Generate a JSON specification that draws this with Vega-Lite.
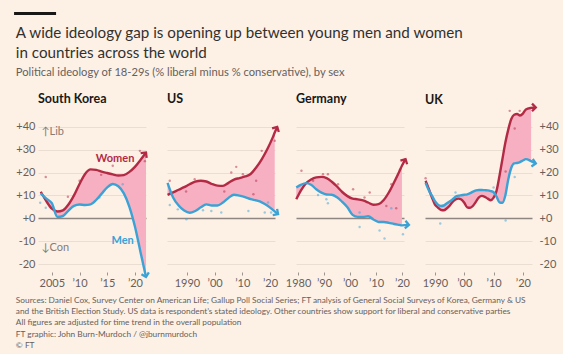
{
"$schema": "https://vega.github.io/schema/vega-lite/v6.json",
"background": "#fdf1e6",
"padding": {"left": 14, "right": 4, "top": 7, "bottom": 4},
"config": {
  "font": "Lato",
  "view": {"stroke": null},
  "axis": {"labelFont": "Lato", "labelFontSize": 11, "labelColor": "#66605c", "domain": false, "ticks": false},
  "axisX": {"ticks": true, "tickSize": 3, "tickColor": "#9e958f", "offset": 8, "labelPadding": 2, "grid": false}
},
"datasets": {
  "bar": [{"a": 0, "b": 1, "c": 4, "d": 7}],
  "lines": [
    {"c":"South Korea","s":"Women","y":2003,"v":11.6},{"c":"South Korea","s":"Women","y":2004,"v":7.5},{"c":"South Korea","s":"Women","y":2005,"v":4.2},{"c":"South Korea","s":"Women","y":2006,"v":3.0},{"c":"South Korea","s":"Women","y":2007,"v":3.5},{"c":"South Korea","s":"Women","y":2008,"v":6.0},{"c":"South Korea","s":"Women","y":2009,"v":10.0},{"c":"South Korea","s":"Women","y":2010,"v":15.0},{"c":"South Korea","s":"Women","y":2011,"v":19.4},{"c":"South Korea","s":"Women","y":2012,"v":21.4},{"c":"South Korea","s":"Women","y":2013,"v":21.2},{"c":"South Korea","s":"Women","y":2014,"v":20.4},{"c":"South Korea","s":"Women","y":2015,"v":19.8},{"c":"South Korea","s":"Women","y":2016,"v":19.2},{"c":"South Korea","s":"Women","y":2017,"v":18.7},{"c":"South Korea","s":"Women","y":2018,"v":18.9},{"c":"South Korea","s":"Women","y":2019,"v":20.3},{"c":"South Korea","s":"Women","y":2020,"v":22.5},{"c":"South Korea","s":"Women","y":2021,"v":25.5},{"c":"South Korea","s":"Women","y":2022,"v":28.8},
    {"c":"South Korea","s":"Men","y":2003,"v":10.9},{"c":"South Korea","s":"Men","y":2004,"v":8.6},{"c":"South Korea","s":"Men","y":2005,"v":6.6},{"c":"South Korea","s":"Men","y":2006,"v":0.6},{"c":"South Korea","s":"Men","y":2007,"v":1.0},{"c":"South Korea","s":"Men","y":2008,"v":3.4},{"c":"South Korea","s":"Men","y":2009,"v":5.4},{"c":"South Korea","s":"Men","y":2010,"v":6.0},{"c":"South Korea","s":"Men","y":2011,"v":5.8},{"c":"South Korea","s":"Men","y":2012,"v":6.1},{"c":"South Korea","s":"Men","y":2013,"v":8.0},{"c":"South Korea","s":"Men","y":2014,"v":10.8},{"c":"South Korea","s":"Men","y":2015,"v":13.5},{"c":"South Korea","s":"Men","y":2016,"v":15.0},{"c":"South Korea","s":"Men","y":2017,"v":14.0},{"c":"South Korea","s":"Men","y":2018,"v":10.9},{"c":"South Korea","s":"Men","y":2019,"v":5.0},{"c":"South Korea","s":"Men","y":2020,"v":-3.6},{"c":"South Korea","s":"Men","y":2021,"v":-14.7},{"c":"South Korea","s":"Men","y":2022,"v":-25.7},
    {"c":"US","s":"Women","y":1983,"v":10.2},{"c":"US","s":"Women","y":1985,"v":11.3},{"c":"US","s":"Women","y":1987,"v":12.5},{"c":"US","s":"Women","y":1989,"v":13.6},{"c":"US","s":"Women","y":1991,"v":14.9},{"c":"US","s":"Women","y":1993,"v":16.0},{"c":"US","s":"Women","y":1995,"v":16.4},{"c":"US","s":"Women","y":1997,"v":16.1},{"c":"US","s":"Women","y":1999,"v":15.0},{"c":"US","s":"Women","y":2001,"v":14.3},{"c":"US","s":"Women","y":2003,"v":14.2},{"c":"US","s":"Women","y":2005,"v":15.5},{"c":"US","s":"Women","y":2007,"v":16.9},{"c":"US","s":"Women","y":2009,"v":17.6},{"c":"US","s":"Women","y":2011,"v":18.3},{"c":"US","s":"Women","y":2013,"v":19.4},{"c":"US","s":"Women","y":2015,"v":22.2},{"c":"US","s":"Women","y":2017,"v":25.8},{"c":"US","s":"Women","y":2019,"v":30.2},{"c":"US","s":"Women","y":2021,"v":35.4},{"c":"US","s":"Women","y":2021.7,"v":37.5},{"c":"US","s":"Women","y":2022.6,"v":40.0},
    {"c":"US","s":"Men","y":1983,"v":15.5},{"c":"US","s":"Men","y":1985,"v":9.1},{"c":"US","s":"Men","y":1987,"v":5.6},{"c":"US","s":"Men","y":1989,"v":3.4},{"c":"US","s":"Men","y":1991,"v":2.4},{"c":"US","s":"Men","y":1993,"v":3.2},{"c":"US","s":"Men","y":1995,"v":4.8},{"c":"US","s":"Men","y":1997,"v":6.1},{"c":"US","s":"Men","y":1999,"v":5.6},{"c":"US","s":"Men","y":2001,"v":5.6},{"c":"US","s":"Men","y":2003,"v":6.9},{"c":"US","s":"Men","y":2005,"v":8.9},{"c":"US","s":"Men","y":2007,"v":10.3},{"c":"US","s":"Men","y":2009,"v":9.9},{"c":"US","s":"Men","y":2011,"v":9.3},{"c":"US","s":"Men","y":2013,"v":8.4},{"c":"US","s":"Men","y":2015,"v":7.8},{"c":"US","s":"Men","y":2017,"v":7.0},{"c":"US","s":"Men","y":2019,"v":5.6},{"c":"US","s":"Men","y":2021,"v":3.7},{"c":"US","s":"Men","y":2021.7,"v":3.0},{"c":"US","s":"Men","y":2022.9,"v":1.8},
    {"c":"Germany","s":"Women","y":1979.3,"v":8.3},{"c":"Germany","s":"Women","y":1981,"v":12.0},{"c":"Germany","s":"Women","y":1983,"v":15.2},{"c":"Germany","s":"Women","y":1985,"v":17.0},{"c":"Germany","s":"Women","y":1987,"v":17.9},{"c":"Germany","s":"Women","y":1989,"v":18.1},{"c":"Germany","s":"Women","y":1991,"v":17.6},{"c":"Germany","s":"Women","y":1993,"v":16.0},{"c":"Germany","s":"Women","y":1995,"v":13.9},{"c":"Germany","s":"Women","y":1997,"v":11.5},{"c":"Germany","s":"Women","y":1999,"v":9.7},{"c":"Germany","s":"Women","y":2001,"v":8.6},{"c":"Germany","s":"Women","y":2003,"v":8.3},{"c":"Germany","s":"Women","y":2005,"v":7.8},{"c":"Germany","s":"Women","y":2007,"v":6.9},{"c":"Germany","s":"Women","y":2009,"v":5.9},{"c":"Germany","s":"Women","y":2011,"v":6.2},{"c":"Germany","s":"Women","y":2013,"v":8.0},{"c":"Germany","s":"Women","y":2015,"v":11.4},{"c":"Germany","s":"Women","y":2017,"v":15.8},{"c":"Germany","s":"Women","y":2019,"v":20.5},{"c":"Germany","s":"Women","y":2020,"v":23.0},{"c":"Germany","s":"Women","y":2021.4,"v":25.9},
    {"c":"Germany","s":"Men","y":1979.3,"v":13.5},{"c":"Germany","s":"Men","y":1981,"v":14.6},{"c":"Germany","s":"Men","y":1983,"v":15.4},{"c":"Germany","s":"Men","y":1985,"v":14.7},{"c":"Germany","s":"Men","y":1987,"v":12.7},{"c":"Germany","s":"Men","y":1989,"v":11.2},{"c":"Germany","s":"Men","y":1991,"v":10.4},{"c":"Germany","s":"Men","y":1993,"v":10.3},{"c":"Germany","s":"Men","y":1995,"v":9.2},{"c":"Germany","s":"Men","y":1997,"v":7.2},{"c":"Germany","s":"Men","y":1999,"v":4.8},{"c":"Germany","s":"Men","y":2001,"v":1.5},{"c":"Germany","s":"Men","y":2003,"v":0.6},{"c":"Germany","s":"Men","y":2005,"v":0.6},{"c":"Germany","s":"Men","y":2007,"v":0.9},{"c":"Germany","s":"Men","y":2009,"v":-0.5},{"c":"Germany","s":"Men","y":2011,"v":-1.6},{"c":"Germany","s":"Men","y":2013,"v":-1.6},{"c":"Germany","s":"Men","y":2015,"v":-2.0},{"c":"Germany","s":"Men","y":2017,"v":-2.5},{"c":"Germany","s":"Men","y":2019,"v":-2.9},{"c":"Germany","s":"Men","y":2020,"v":-3.1},{"c":"Germany","s":"Men","y":2022.7,"v":-2.9},
    {"c":"UK","s":"Women","y":1986.8,"v":16.4},{"c":"UK","s":"Women","y":1988,"v":12.5},{"c":"UK","s":"Women","y":1989,"v":9.0},{"c":"UK","s":"Women","y":1990,"v":6.0},{"c":"UK","s":"Women","y":1991,"v":4.7},{"c":"UK","s":"Women","y":1992,"v":3.7},{"c":"UK","s":"Women","y":1993,"v":3.5},{"c":"UK","s":"Women","y":1994,"v":4.3},{"c":"UK","s":"Women","y":1995,"v":5.5},{"c":"UK","s":"Women","y":1996,"v":7.2},{"c":"UK","s":"Women","y":1997,"v":8.2},{"c":"UK","s":"Women","y":1998,"v":8.6},{"c":"UK","s":"Women","y":1999,"v":8.2},{"c":"UK","s":"Women","y":2000,"v":6.8},{"c":"UK","s":"Women","y":2001,"v":4.8},{"c":"UK","s":"Women","y":2002,"v":4.6},{"c":"UK","s":"Women","y":2003,"v":5.5},{"c":"UK","s":"Women","y":2004,"v":7.3},{"c":"UK","s":"Women","y":2005,"v":9.2},{"c":"UK","s":"Women","y":2006,"v":9.8},{"c":"UK","s":"Women","y":2007,"v":9.4},{"c":"UK","s":"Women","y":2008,"v":8.6},{"c":"UK","s":"Women","y":2009,"v":7.9},{"c":"UK","s":"Women","y":2010,"v":9.0},{"c":"UK","s":"Women","y":2011,"v":12.0},{"c":"UK","s":"Women","y":2012,"v":18.5},{"c":"UK","s":"Women","y":2013,"v":25.8},{"c":"UK","s":"Women","y":2014,"v":33.0},{"c":"UK","s":"Women","y":2015,"v":38.8},{"c":"UK","s":"Women","y":2016,"v":43.3},{"c":"UK","s":"Women","y":2017,"v":45.3},{"c":"UK","s":"Women","y":2018,"v":45.6},{"c":"UK","s":"Women","y":2019,"v":45.0},{"c":"UK","s":"Women","y":2020,"v":45.8},{"c":"UK","s":"Women","y":2021,"v":47.6},{"c":"UK","s":"Women","y":2022.8,"v":48.3},{"c":"UK","s":"Women","y":2024.4,"v":48.5},
    {"c":"UK","s":"Men","y":1986.8,"v":15.5},{"c":"UK","s":"Men","y":1988,"v":12.0},{"c":"UK","s":"Men","y":1989,"v":9.8},{"c":"UK","s":"Men","y":1990,"v":7.5},{"c":"UK","s":"Men","y":1991,"v":6.0},{"c":"UK","s":"Men","y":1992,"v":5.4},{"c":"UK","s":"Men","y":1993,"v":5.6},{"c":"UK","s":"Men","y":1994,"v":6.5},{"c":"UK","s":"Men","y":1995,"v":7.3},{"c":"UK","s":"Men","y":1996,"v":8.3},{"c":"UK","s":"Men","y":1997,"v":9.4},{"c":"UK","s":"Men","y":1998,"v":9.9},{"c":"UK","s":"Men","y":1999,"v":10.1},{"c":"UK","s":"Men","y":2000,"v":10.3},{"c":"UK","s":"Men","y":2001,"v":10.5},{"c":"UK","s":"Men","y":2002,"v":11.0},{"c":"UK","s":"Men","y":2003,"v":11.7},{"c":"UK","s":"Men","y":2004,"v":12.2},{"c":"UK","s":"Men","y":2005,"v":12.4},{"c":"UK","s":"Men","y":2006,"v":12.4},{"c":"UK","s":"Men","y":2007,"v":12.3},{"c":"UK","s":"Men","y":2008,"v":12.2},{"c":"UK","s":"Men","y":2009,"v":11.9},{"c":"UK","s":"Men","y":2010,"v":11.4},{"c":"UK","s":"Men","y":2011,"v":9.5},{"c":"UK","s":"Men","y":2012,"v":7.0},{"c":"UK","s":"Men","y":2013,"v":6.8},{"c":"UK","s":"Men","y":2014,"v":10.0},{"c":"UK","s":"Men","y":2015,"v":17.0},{"c":"UK","s":"Men","y":2016,"v":22.0},{"c":"UK","s":"Men","y":2017,"v":24.0},{"c":"UK","s":"Men","y":2018,"v":24.2},{"c":"UK","s":"Men","y":2019,"v":24.6},{"c":"UK","s":"Men","y":2020,"v":25.3},{"c":"UK","s":"Men","y":2021,"v":25.9},{"c":"UK","s":"Men","y":2022.8,"v":25.0},{"c":"UK","s":"Men","y":2024.4,"v":24.0}
  ],
  "dots": [
    {"c":"South Korea","s":"Women","y":2003.9,"v":18.1},{"c":"South Korea","s":"Men","y":2002.9,"v":6.8},{"c":"South Korea","s":"Men","y":2003.9,"v":4.6},{"c":"South Korea","s":"Women","y":2007.9,"v":9.4},{"c":"South Korea","s":"Women","y":2010,"v":16.4},{"c":"South Korea","s":"Women","y":2013.9,"v":19},{"c":"South Korea","s":"Women","y":2016,"v":23},{"c":"South Korea","s":"Men","y":2017.8,"v":14.9},{"c":"South Korea","s":"Women","y":2020.9,"v":29.5},{"c":"South Korea","s":"Women","y":2021.8,"v":25},{"c":"South Korea","s":"Men","y":2013.6,"v":9.1},
    {"c":"US","s":"Women","y":1983.8,"v":16.4},{"c":"US","s":"Men","y":1983.8,"v":5.8},{"c":"US","s":"Men","y":1986.7,"v":3.9},{"c":"US","s":"Men","y":1989.8,"v":-0.4},{"c":"US","s":"Women","y":1992.8,"v":17.1},{"c":"US","s":"Women","y":1989.7,"v":11.7},{"c":"US","s":"Men","y":1995.8,"v":3.5},{"c":"US","s":"Men","y":1998.8,"v":3.2},{"c":"US","s":"Men","y":2002.4,"v":2.5},{"c":"US","s":"Women","y":2003.5,"v":11.7},{"c":"US","s":"Women","y":2006,"v":20},{"c":"US","s":"Women","y":2007.8,"v":22.5},{"c":"US","s":"Women","y":2010.2,"v":19.3},{"c":"US","s":"Men","y":2012.2,"v":3.2},{"c":"US","s":"Women","y":2014,"v":10.5},{"c":"US","s":"Women","y":2017,"v":29.5},{"c":"US","s":"Men","y":2018.1,"v":2.5},{"c":"US","s":"Men","y":2020.4,"v":2.5},{"c":"US","s":"Men","y":2019.3,"v":6.9},{"c":"US","s":"Women","y":2021.7,"v":33.9},{"c":"US","s":"Women","y":2015,"v":16.4},
    {"c":"Germany","s":"Women","y":1981.3,"v":20.8},{"c":"Germany","s":"Women","y":1985.8,"v":16.4},{"c":"Germany","s":"Women","y":1989.6,"v":19.3},{"c":"Germany","s":"Women","y":1991.5,"v":19.3},{"c":"Germany","s":"Men","y":1987.7,"v":10.2},{"c":"Germany","s":"Men","y":1990.9,"v":8.3},{"c":"Germany","s":"Men","y":1991.5,"v":6.6},{"c":"Germany","s":"Women","y":1995.4,"v":14.9},{"c":"Germany","s":"Women","y":2001.2,"v":12.7},{"c":"Germany","s":"Men","y":2003.7,"v":2.5},{"c":"Germany","s":"Men","y":2003.7,"v":-3.8},{"c":"Germany","s":"Women","y":2005.6,"v":9.1},{"c":"Germany","s":"Women","y":2007.6,"v":11.3},{"c":"Germany","s":"Men","y":2011.4,"v":-5.3},{"c":"Germany","s":"Men","y":2013.3,"v":-8.8},{"c":"Germany","s":"Women","y":2014,"v":5.4},{"c":"Germany","s":"Women","y":2015.9,"v":14.9},{"c":"Germany","s":"Women","y":2017.8,"v":4.4},{"c":"Germany","s":"Men","y":2020.4,"v":-7},{"c":"Germany","s":"Men","y":2015.9,"v":4.4},
    {"c":"UK","s":"Women","y":1986.8,"v":17.5},{"c":"UK","s":"Men","y":1991.8,"v":-2.3},{"c":"UK","s":"Men","y":1997,"v":11.3},{"c":"UK","s":"Men","y":2010,"v":13.5},{"c":"UK","s":"Women","y":2014.1,"v":20.5},{"c":"UK","s":"Men","y":2014.1,"v":-1},{"c":"UK","s":"Women","y":2015.5,"v":47},{"c":"UK","s":"Women","y":2017.2,"v":39.3},{"c":"UK","s":"Men","y":2017.2,"v":18.1},{"c":"UK","s":"Women","y":2018.9,"v":47}
  ],
  "notes": [
    {"s":"Women","t":"Women","y":2019.9,"v":25.9},
    {"s":"Men","t":"Men","y":2019.8,"v":-10.1},
    {"s":"Lib","t":"↑Lib","y":2003.1,"v":37.7},
    {"s":"Con","t":"↓Con","y":2003.1,"v":-12.9}
  ]
},
"spacing": 7,
"vconcat": [
{
  "width": 42, "height": 12,
  "data": {"name": "bar"},
  "mark": {"type": "rect", "color": "#1a1817"},
  "encoding": {
    "x": {"field": "a", "type": "quantitative", "scale": {"domain": [0.57, 1.57]}, "axis": null},
    "x2": {"field": "b"},
    "y": {"field": "c", "type": "quantitative", "scale": {"domain": [0, 12]}, "axis": null},
    "y2": {"field": "d"}
  }
},
{
  "title": {"text": ["A wide ideology gap is opening up between young men and women", "in countries across the world"], "subtitle": "Political ideology of 18-29s (% liberal minus % conservative), by sex", "anchor": "start", "font": "Lato", "fontSize": 15.2, "fontWeight": "normal", "color": "#33302e", "lineHeight": 20, "subtitleFont": "Lato", "subtitleFontSize": 11.2, "subtitleColor": "#66605c", "subtitlePadding": 6, "offset": 14},
  "vconcat": [{
    "title": {"text": ["Sources: Daniel Cox, Survey Center on American Life; Gallup Poll Social Series; FT analysis of General Social Surveys of Korea, Germany & US", "and the British Election Study. US data is respondent’s stated ideology. Other countries show support for liberal and conservative parties", "All figures are adjusted for time trend in the overall population", "FT graphic: John Burn-Murdoch / @jburnmurdoch", "© FT"], "orient": "bottom", "anchor": "start", "font": "Lato", "fontSize": 8.3, "fontWeight": "normal", "color": "#66605c", "lineHeight": 11.2, "offset": 8},
    "bounds": "flush",
    "spacing": 21,
    "hconcat": [
      {
        "width": 108, "height": 160,
        "title": {"text": "South Korea", "anchor": "start", "frame": "group", "font": "Lato", "fontSize": 12.5, "fontWeight": "bold", "color": "#1a1817", "offset": -1},
        "data": {"name": "lines"},
        "encoding": {
          "x": {"field": "y", "type": "quantitative", "title": null, "scale": {"domain": [2002.5, 2022], "nice": false, "zero": false}, "axis": {"values": [2005, 2010, 2015, 2020], "labelExpr": "datum.value == 2005 ? '2005' : '’' + substring(toString(datum.value), 2)"}},
          "y": {"field": "v", "type": "quantitative", "title": null, "scale": {"domain": [-20, 50], "nice": false, "zero": false}, "axis": {"orient": "left", "values": [-20, -10, 0, 10, 20, 30, 40], "grid": true, "gridColor": {"condition": {"test": "datum.value === 0", "value": "#8f8682"}, "value": "#eaded3"}, "gridWidth": {"condition": {"test": "datum.value === 0", "value": 1.4}, "value": 1}, "labelPadding": 3, "labelExpr": "datum.value > 0 ? '+' + datum.value : (datum.value == 0 ? '+0' : '-' + abs(datum.value))"}}
        },
        "layer": [
          {"transform": [{"filter": "datum.c == 'South Korea'"}, {"pivot": "s", "value": "v", "groupby": ["c", "y"]}, {"filter": "isValid(datum.Women) && isValid(datum.Men) && datum.y <= 2022"}], "mark": {"type": "area", "color": "#f6b0c2", "interpolate": "monotone"}, "encoding": {"y": {"field": "Women", "type": "quantitative", "title": null, "scale": {"domain": [-20, 50], "nice": false, "zero": false}}, "y2": {"field": "Men"}}},
          {"data": {"name": "dots"}, "transform": [{"filter": "datum.c == 'South Korea'"}], "mark": {"type": "circle", "size": 6, "opacity": 0.5}, "encoding": {"color": {"field": "s", "type": "nominal", "scale": {"domain": ["Women", "Men"], "range": ["#b32a45", "#3ba2d6"]}, "legend": null}}},
          {"transform": [{"filter": "datum.c == 'South Korea'"}], "mark": {"type": "line", "interpolate": "monotone", "strokeWidth": 2.4}, "encoding": {"color": {"field": "s", "type": "nominal", "scale": {"domain": ["Women", "Men"], "range": ["#b32a45", "#3ba2d6"]}, "legend": null}}},
          {"transform": [{"filter": "datum.c == 'South Korea' && datum.s == 'Women'"}, {"joinaggregate": [{"op": "max", "field": "y", "as": "my"}]}, {"filter": "datum.y == datum.my"}], "mark": {"type": "point", "shape": "M-0.8,0.8L0,0L0.8,0.8", "filled": false, "size": 90, "strokeWidth": 2.3, "angle": 38, "opacity": 1}, "encoding": {"color": {"field": "s", "type": "nominal", "scale": {"domain": ["Women", "Men"], "range": ["#b32a45", "#3ba2d6"]}, "legend": null}}},
          {"transform": [{"filter": "datum.c == 'South Korea' && datum.s == 'Men'"}, {"joinaggregate": [{"op": "max", "field": "y", "as": "my"}]}, {"filter": "datum.y == datum.my"}], "mark": {"type": "point", "shape": "M-0.8,0.8L0,0L0.8,0.8", "filled": false, "size": 90, "strokeWidth": 2.3, "angle": 167, "opacity": 1}, "encoding": {"color": {"field": "s", "type": "nominal", "scale": {"domain": ["Women", "Men"], "range": ["#b32a45", "#3ba2d6"]}, "legend": null}}},
          {"data": {"name": "notes"}, "transform": [{"filter": "datum.s == 'Women' || datum.s == 'Men'"}], "mark": {"type": "text", "align": "right", "baseline": "middle", "font": "Lato", "fontWeight": "bold", "fontSize": 11}, "encoding": {"text": {"field": "t"}, "color": {"field": "s", "type": "nominal", "scale": {"domain": ["Women", "Men"], "range": ["#b32a45", "#3ba2d6"]}, "legend": null}}},
          {"data": {"name": "notes"}, "transform": [{"filter": "datum.s == 'Lib' || datum.s == 'Con'"}], "mark": {"type": "text", "align": "left", "baseline": "middle", "font": "Lato", "fontSize": 11, "color": "#857c77"}, "encoding": {"text": {"field": "t"}}}
        ]
      },
      {
        "width": 108, "height": 160,
        "title": {"text": "US", "anchor": "start", "frame": "group", "font": "Lato", "fontSize": 12.5, "fontWeight": "bold", "color": "#1a1817", "offset": -1},
        "data": {"name": "lines"},
        "encoding": {
          "x": {"field": "y", "type": "quantitative", "title": null, "scale": {"domain": [1982.8, 2021.8], "nice": false, "zero": false}, "axis": {"values": [1990, 2000, 2010, 2020], "labelExpr": "datum.value == 1990 ? '1990' : '’' + substring(toString(datum.value), 2)"}},
          "y": {"field": "v", "type": "quantitative", "title": null, "scale": {"domain": [-20, 50], "nice": false, "zero": false}, "axis": {"labels": false, "values": [-20, -10, 0, 10, 20, 30, 40], "grid": true, "gridColor": {"condition": {"test": "datum.value === 0", "value": "#8f8682"}, "value": "#eaded3"}, "gridWidth": {"condition": {"test": "datum.value === 0", "value": 1.4}, "value": 1}}}
        },
        "layer": [
          {"transform": [{"filter": "datum.c == 'US'"}, {"pivot": "s", "value": "v", "groupby": ["c", "y"]}, {"filter": "isValid(datum.Women) && isValid(datum.Men) && datum.y <= 2022"}], "mark": {"type": "area", "color": "#f6b0c2", "interpolate": "monotone"}, "encoding": {"y": {"field": "Women", "type": "quantitative", "title": null, "scale": {"domain": [-20, 50], "nice": false, "zero": false}}, "y2": {"field": "Men"}}},
          {"data": {"name": "dots"}, "transform": [{"filter": "datum.c == 'US'"}], "mark": {"type": "circle", "size": 6, "opacity": 0.5}, "encoding": {"color": {"field": "s", "type": "nominal", "scale": {"domain": ["Women", "Men"], "range": ["#b32a45", "#3ba2d6"]}, "legend": null}}},
          {"transform": [{"filter": "datum.c == 'US'"}], "mark": {"type": "line", "interpolate": "monotone", "strokeWidth": 2.4}, "encoding": {"color": {"field": "s", "type": "nominal", "scale": {"domain": ["Women", "Men"], "range": ["#b32a45", "#3ba2d6"]}, "legend": null}}},
          {"transform": [{"filter": "datum.c == 'US' && datum.s == 'Women'"}, {"joinaggregate": [{"op": "max", "field": "y", "as": "my"}]}, {"filter": "datum.y == datum.my"}], "mark": {"type": "point", "shape": "M-0.8,0.8L0,0L0.8,0.8", "filled": false, "size": 90, "strokeWidth": 2.3, "angle": 28, "opacity": 1}, "encoding": {"color": {"field": "s", "type": "nominal", "scale": {"domain": ["Women", "Men"], "range": ["#b32a45", "#3ba2d6"]}, "legend": null}}},
          {"transform": [{"filter": "datum.c == 'US' && datum.s == 'Men'"}, {"joinaggregate": [{"op": "max", "field": "y", "as": "my"}]}, {"filter": "datum.y == datum.my"}], "mark": {"type": "point", "shape": "M-0.8,0.8L0,0L0.8,0.8", "filled": false, "size": 90, "strokeWidth": 2.3, "angle": 125, "opacity": 1}, "encoding": {"color": {"field": "s", "type": "nominal", "scale": {"domain": ["Women", "Men"], "range": ["#b32a45", "#3ba2d6"]}, "legend": null}}}
        ]
      },
      {
        "width": 108, "height": 160,
        "title": {"text": "Germany", "anchor": "start", "frame": "group", "font": "Lato", "fontSize": 12.5, "fontWeight": "bold", "color": "#1a1817", "offset": -1},
        "data": {"name": "lines"},
        "encoding": {
          "x": {"field": "y", "type": "quantitative", "title": null, "scale": {"domain": [1979.2, 2020.8], "nice": false, "zero": false}, "axis": {"values": [1980, 1990, 2000, 2010, 2020], "labelExpr": "datum.value == 1980 ? '1980' : '’' + substring(toString(datum.value), 2)"}},
          "y": {"field": "v", "type": "quantitative", "title": null, "scale": {"domain": [-20, 50], "nice": false, "zero": false}, "axis": {"labels": false, "values": [-20, -10, 0, 10, 20, 30, 40], "grid": true, "gridColor": {"condition": {"test": "datum.value === 0", "value": "#8f8682"}, "value": "#eaded3"}, "gridWidth": {"condition": {"test": "datum.value === 0", "value": 1.4}, "value": 1}}}
        },
        "layer": [
          {"transform": [{"filter": "datum.c == 'Germany'"}, {"pivot": "s", "value": "v", "groupby": ["c", "y"]}, {"filter": "isValid(datum.Women) && isValid(datum.Men) && datum.y <= 2020.8"}], "mark": {"type": "area", "color": "#f6b0c2", "interpolate": "monotone"}, "encoding": {"y": {"field": "Women", "type": "quantitative", "title": null, "scale": {"domain": [-20, 50], "nice": false, "zero": false}}, "y2": {"field": "Men"}}},
          {"data": {"name": "dots"}, "transform": [{"filter": "datum.c == 'Germany'"}], "mark": {"type": "circle", "size": 6, "opacity": 0.5}, "encoding": {"color": {"field": "s", "type": "nominal", "scale": {"domain": ["Women", "Men"], "range": ["#b32a45", "#3ba2d6"]}, "legend": null}}},
          {"transform": [{"filter": "datum.c == 'Germany'"}], "mark": {"type": "line", "interpolate": "monotone", "strokeWidth": 2.4}, "encoding": {"color": {"field": "s", "type": "nominal", "scale": {"domain": ["Women", "Men"], "range": ["#b32a45", "#3ba2d6"]}, "legend": null}}},
          {"transform": [{"filter": "datum.c == 'Germany' && datum.s == 'Women'"}, {"joinaggregate": [{"op": "max", "field": "y", "as": "my"}]}, {"filter": "datum.y == datum.my"}], "mark": {"type": "point", "shape": "M-0.8,0.8L0,0L0.8,0.8", "filled": false, "size": 90, "strokeWidth": 2.3, "angle": 28, "opacity": 1}, "encoding": {"color": {"field": "s", "type": "nominal", "scale": {"domain": ["Women", "Men"], "range": ["#b32a45", "#3ba2d6"]}, "legend": null}}},
          {"transform": [{"filter": "datum.c == 'Germany' && datum.s == 'Men'"}, {"joinaggregate": [{"op": "max", "field": "y", "as": "my"}]}, {"filter": "datum.y == datum.my"}], "mark": {"type": "point", "shape": "M-0.8,0.8L0,0L0.8,0.8", "filled": false, "size": 90, "strokeWidth": 2.3, "angle": 95, "opacity": 1}, "encoding": {"color": {"field": "s", "type": "nominal", "scale": {"domain": ["Women", "Men"], "range": ["#b32a45", "#3ba2d6"]}, "legend": null}}}
        ]
      },
      {
        "width": 107, "height": 160,
        "title": {"text": "UK", "anchor": "start", "frame": "group", "font": "Lato", "fontSize": 12.5, "fontWeight": "bold", "color": "#1a1817", "offset": -7},
        "data": {"name": "lines"},
        "encoding": {
          "x": {"field": "y", "type": "quantitative", "title": null, "scale": {"domain": [1986.6, 2023.1], "nice": false, "zero": false}, "axis": {"values": [1990, 2000, 2010, 2020], "labelExpr": "datum.value == 1990 ? '1990' : '’' + substring(toString(datum.value), 2)"}},
          "y": {"field": "v", "type": "quantitative", "title": null, "scale": {"domain": [-20, 50], "nice": false, "zero": false}, "axis": {"orient": "right", "values": [-20, -10, 0, 10, 20, 30, 40], "grid": true, "gridColor": {"condition": {"test": "datum.value === 0", "value": "#8f8682"}, "value": "#eaded3"}, "gridWidth": {"condition": {"test": "datum.value === 0", "value": 1.4}, "value": 1}, "labelPadding": 7, "labelExpr": "datum.value > 0 ? '+' + datum.value : (datum.value == 0 ? '+0' : '-' + abs(datum.value))"}}
        },
        "layer": [
          {"transform": [{"filter": "datum.c == 'UK'"}, {"pivot": "s", "value": "v", "groupby": ["c", "y"]}, {"filter": "isValid(datum.Women) && isValid(datum.Men) && datum.y <= 2023.1"}], "mark": {"type": "area", "color": "#f6b0c2", "interpolate": "monotone"}, "encoding": {"y": {"field": "Women", "type": "quantitative", "title": null, "scale": {"domain": [-20, 50], "nice": false, "zero": false}}, "y2": {"field": "Men"}}},
          {"data": {"name": "dots"}, "transform": [{"filter": "datum.c == 'UK'"}], "mark": {"type": "circle", "size": 6, "opacity": 0.5}, "encoding": {"color": {"field": "s", "type": "nominal", "scale": {"domain": ["Women", "Men"], "range": ["#b32a45", "#3ba2d6"]}, "legend": null}}},
          {"transform": [{"filter": "datum.c == 'UK'"}], "mark": {"type": "line", "interpolate": "monotone", "strokeWidth": 2.4}, "encoding": {"color": {"field": "s", "type": "nominal", "scale": {"domain": ["Women", "Men"], "range": ["#b32a45", "#3ba2d6"]}, "legend": null}}},
          {"transform": [{"filter": "datum.c == 'UK' && datum.s == 'Women'"}, {"joinaggregate": [{"op": "max", "field": "y", "as": "my"}]}, {"filter": "datum.y == datum.my"}], "mark": {"type": "point", "shape": "M-0.8,0.8L0,0L0.8,0.8", "filled": false, "size": 90, "strokeWidth": 2.3, "angle": 90, "opacity": 1}, "encoding": {"color": {"field": "s", "type": "nominal", "scale": {"domain": ["Women", "Men"], "range": ["#b32a45", "#3ba2d6"]}, "legend": null}}},
          {"transform": [{"filter": "datum.c == 'UK' && datum.s == 'Men'"}, {"joinaggregate": [{"op": "max", "field": "y", "as": "my"}]}, {"filter": "datum.y == datum.my"}], "mark": {"type": "point", "shape": "M-0.8,0.8L0,0L0.8,0.8", "filled": false, "size": 90, "strokeWidth": 2.3, "angle": 100, "opacity": 1}, "encoding": {"color": {"field": "s", "type": "nominal", "scale": {"domain": ["Women", "Men"], "range": ["#b32a45", "#3ba2d6"]}, "legend": null}}}
        ]
      }
    ]
  }]
}
]
}
